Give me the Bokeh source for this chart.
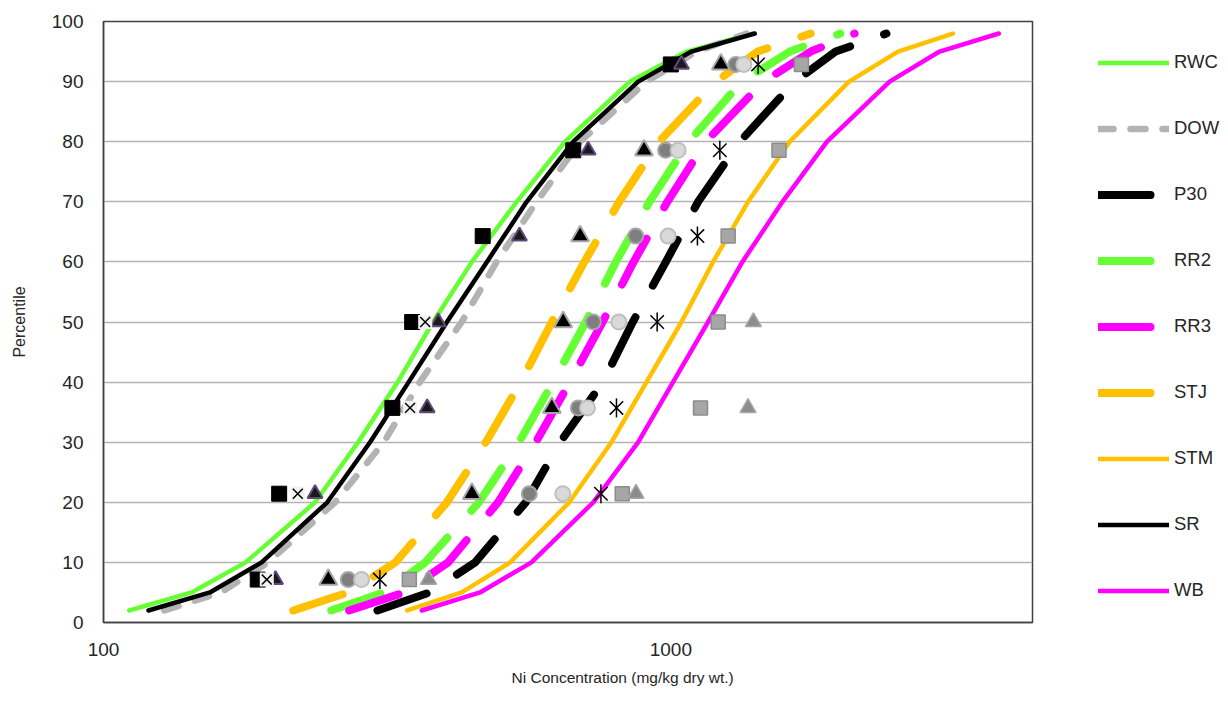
import numpy as np
from bokeh.plotting import figure
from bokeh.layouts import row
from bokeh.models import (Range1d, FixedTicker, NumeralTickFormatter, Legend,
                          LegendItem, Title)
from bokeh.embed import file_html
from bokeh.resources import INLINE

# ---------------- data ----------------
percentiles = [2, 5, 10, 20, 30, 40, 50, 60, 70, 80, 90, 95, 98]

RWC = [111, 143, 178, 236, 281, 330, 381, 446, 535, 651, 847, 1066, 1393]
DOW = [128, 161, 195, 256, 312, 361, 428, 493, 580, 692, 906, 1110, 1360]
P30 = [304, 376, 452, 555, 638, 759, 857, 980, 1117, 1323, 1653, 1952, 2399]
RR2 = [252, 312, 369, 459, 540, 620, 708, 800, 917, 1076, 1334, 1620, 1990]
RR3 = [271, 339, 405, 496, 578, 664, 758, 860, 986, 1152, 1458, 1764, 2108]
STJ = [216, 270, 327, 403, 472, 544, 617, 704, 811, 953, 1200, 1423, 1764]
STM = [343, 428, 521, 662, 786, 906, 1044, 1187, 1368, 1620, 2061, 2514, 3141]
SR = [120, 154, 190, 248, 295, 345, 403, 474, 557, 673, 876, 1087, 1406]
WB = [364, 461, 568, 730, 876, 1009, 1163, 1337, 1573, 1885, 2430, 2976, 3785]

nan = float("nan")
rank_pct = [7.14, 21.43, 35.71, 50.0, 64.29, 78.57, 92.86]
obs_black_square = [187, 204, 323, 350, 466, 673, 1000]
obs_cross = [194, 220, 347, 369, nan, nan, nan]
obs_purple_triangle = [201, 236, 372, 389, 541, 715, 1044]
obs_black_triangle = [249, 446, 617, 646, 692, 897, 1225]
obs_dark_circle = [270, 563, 687, 730, 867, 979, 1302]
obs_light_circle = [285, 645, 713, 810, 989, 1030, 1345]
obs_asterisk = [307, 753, 802, 946, 1114, 1220, 1425]
obs_gray_square = [346, 821, 1128, 1212, 1262, 1551, 1699]
obs_gray_triangle = [374, 868, 1368, 1398, nan, nan, nan]

x_ticks = [100, 1000]
y_ticks = [0, 10, 20, 30, 40, 50, 60, 70, 80, 90, 100]

FONT = "Liberation Sans"
TEXT = "#262626"

# ---------------- main figure ----------------
p = figure(width=1040, height=699, x_axis_type="log",
           x_range=Range1d(100, 4340), y_range=Range1d(0, 100),
           output_backend="svg", toolbar_location=None,
           min_border_left=103, min_border_right=8,
           min_border_top=21, min_border_bottom=77)
p.background_fill_color = "white"
p.border_fill_color = "white"
p.outline_line_color = "#404040"
p.outline_line_width = 1.5

p.xaxis.ticker = FixedTicker(ticks=x_ticks)
p.xaxis.formatter = NumeralTickFormatter(format="0")
p.yaxis.ticker = FixedTicker(ticks=y_ticks)
p.xgrid.grid_line_color = None
p.ygrid.grid_line_color = "#b3b3b3"
p.ygrid.grid_line_width = 1.5

for ax in (p.xaxis, p.yaxis):
    ax.major_tick_line_color = None
    ax.minor_tick_line_color = None
    ax.major_tick_out = 0
    ax.major_tick_in = 0
    ax.minor_tick_out = 0
    ax.axis_line_color = "#404040"
    ax.axis_line_width = 1.5
    ax.major_label_text_font = FONT
    ax.major_label_text_font_size = "19px"
    ax.major_label_text_color = TEXT
    ax.axis_label_text_font = FONT
    ax.axis_label_text_font_size = "16px"
    ax.axis_label_text_font_style = "normal"
    ax.axis_label_text_color = TEXT
    ax.major_label_standoff = 20

p.yaxis.axis_label = "Percentile"
p.yaxis.axis_label_standoff = 21

xtitle = Title(text="Ni Concentration (mg/kg dry wt.)", align="left", offset=408,
               standoff=16, text_font=FONT, text_font_size="15.5px",
               text_font_style="normal", text_color=TEXT)
p.add_layout(xtitle, "below")

GREEN = "#66ff33"
GRAY = "#b3b3b3"
ORANGE = "#ffc000"
MAGENTA = "#ff00ff"
BLACK = "#000000"
THICK_DASH = "52 36"
THIN, THICK = 4.5, 8

series = [
    ("RWC", RWC, GREEN, THIN, "solid"),
    ("DOW", DOW, GRAY, 6.5, "15 17"),
    ("P30", P30, BLACK, THICK, THICK_DASH),
    ("RR2", RR2, GREEN, THICK, THICK_DASH),
    ("RR3", RR3, MAGENTA, THICK, THICK_DASH),
    ("STJ", STJ, ORANGE, THICK, THICK_DASH),
    ("STM", STM, ORANGE, THIN, "solid"),
    ("SR", SR, BLACK, THIN, "solid"),
    ("WB", WB, MAGENTA, THIN, "solid"),
]

for name, xs, color, w, dash in series:
    p.line(xs, percentiles, line_color=color, line_width=w, line_dash=dash,
           line_cap="round", line_join="round")

# observed points
p.scatter(obs_black_square, rank_pct, marker="square", size=15,
          fill_color="black", line_color="black")
p.scatter(obs_purple_triangle, rank_pct, marker="triangle", size=15,
          fill_color="#1a1a1a", line_color="#604a7b", line_width=2)
p.scatter(obs_cross, rank_pct, marker="square", size=14,
          fill_color="#f2f2f2", line_color=None)
p.scatter(obs_cross, rank_pct, marker="x", size=14,
          line_color="black", line_width=1.5)
p.scatter(obs_black_triangle, rank_pct, marker="triangle", size=18,
          fill_color="black", line_color="#a6a6a6", line_width=2)
p.scatter(obs_dark_circle, rank_pct, marker="circle", size=15,
          fill_color="#7f7f7f", line_color="#a6a6a6", line_width=2)
p.scatter(obs_light_circle, rank_pct, marker="circle", size=15,
          fill_color="#d9d9d9", line_color="#bfbfbf", line_width=2)
p.scatter(obs_asterisk, rank_pct, marker="x", size=19,
          line_color="black", line_width=1.5)
p.scatter(obs_asterisk, rank_pct, marker="dash", angle=np.pi / 2, size=19,
          line_color="black", line_width=1.5)
p.scatter(obs_gray_square, rank_pct, marker="square", size=14,
          fill_color="#a6a6a6", line_color="#8c8c8c", line_width=1.5)
p.scatter(obs_gray_triangle, rank_pct, marker="triangle", size=16,
          fill_color="#8c8c8c", line_color="#a6a6a6", line_width=1.5)

# ---------------- legend panel (frame aligned with the main plot) ----------------
lp = figure(width=180, height=699, x_range=Range1d(0, 1), y_range=Range1d(0, 1),
            output_backend="svg", toolbar_location=None, min_border=0,
            x_axis_location=None, y_axis_location=None)
lp.outline_line_color = None
lp.xgrid.visible = False
lp.ygrid.visible = False
lp.background_fill_color = "white"
lp.border_fill_color = "white"

items = []
for name, xs, color, w, dash in series:
    # swatch renderers kept outside the visible range; only the legend shows them
    r = lp.line([5, 6], [5, 5], line_color=color, line_width=w, line_dash=dash,
                line_cap="round", line_join="round")
    items.append(LegendItem(label=name, renderers=[r]))

legend = Legend(items=items, location=(58, 21), orientation="vertical",
                glyph_width=71, glyph_height=21, label_height=21, spacing=44,
                padding=0, margin=0, label_standoff=5,
                label_text_font=FONT, label_text_font_size="18.5px",
                label_text_color=TEXT, border_line_color=None,
                background_fill_alpha=0)
lp.add_layout(legend, "center")

layout = row(p, lp)
open("out.html", "w").write(file_html(layout, INLINE))
